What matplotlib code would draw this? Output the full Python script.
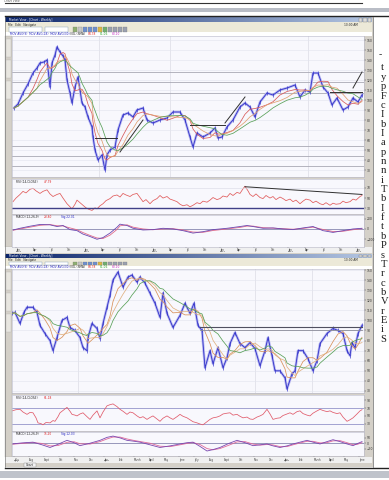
import matplotlib
matplotlib.use('Agg')
import matplotlib.pyplot as plt
import numpy as np
import pandas as pd
from matplotlib.patches import Rectangle
from matplotlib.ticker import MultipleLocator

W, H = 389, 480

# ---------------- data ----------------
# chart 1 : weekly close (week index, price)
price1 = [(2,92),(6,96),(11,107),(16,116),(21,127),(25,132),(28,137),(32,138),(35,140),(38,113),
          (40,137),(43,145),(45,153),(48,148),(51,144),(53,140),(55,120),(58,107),(60,97),(63,113),
          (66,123),(68,110),(70,97),(73,93),(76,83),(80,73),(81,63),(83,50),(86,40),(90,45),
          (93,30),(95,45),(98,50),(103,53),(106,70),(111,85),(116,87),(121,83),(125,90),(131,92),
          (135,80),(141,77),(148,80),(155,82),(161,88),(168,88),(173,80),(178,63),(181,53),(185,67),
          (191,63),(198,67),(203,72),(206,62),(210,63),(215,73),(221,80),(228,93),(233,97),(238,93),
          (243,83),(248,98),(255,107),(261,105),(268,110),(275,112),(283,115),(288,103),(293,110),(298,108),
          (301,127),(306,127),(311,113),(316,107),(320,95),(325,102),(331,90),(336,93),(341,102),(346,98),
          (350,105)]
fib1_levels = [128, 118, 107, 54, 44, 34]
support1 = [((83, 105), (62, 62)), ((178, 213), (75, 75)), ((318, 350), (108, 108))]
trend1 = [((108, 131), (48, 80)), ((213, 233), (77, 103)), ((341, 350), (112, 128))]

rsi1 = [(1,43),(4,50),(8,57),(11,63),(14,60),(18,67),(21,69),(24,64),(28,59),(31,63),(35,66),(38,58),
        (41,53),(45,57),(48,59),(51,50),(55,39),(58,33),(60,29),(63,38),(65,46),(68,41),(71,36),(74,31),
        (77,28),(80,26),(83,31),(85,29),(88,35),(91,39),(94,45),(98,49),(101,54),(105,56),(108,52),(111,59),
        (114,56),(118,53),(121,57),(125,59),(128,51),(131,43),(134,47),(138,39),(141,45),(145,49),(148,55),
        (151,50),(155,53),(158,48),(161,46),(165,43),(168,38),(171,35),(175,37),(178,33),(181,36),(185,41),
        (188,39),(191,44),(195,42),(198,46),(201,51),(205,47),(208,49),(211,54),(215,52),(218,59),(221,55),
        (225,61),(228,59),(231,68),(233,73),(236,64),(238,57),(241,53),(244,58),(248,51),(251,49),(254,55),
        (258,50),(261,53),(264,47),(268,52),(271,49),(274,45),(278,48),(281,43),(284,46),(288,39),(291,44),
        (294,48),(298,46),(301,41),(304,44),(308,39),(311,37),(314,41),(318,36),(321,40),(324,38),(328,39),
        (331,44),(334,41),(338,43),(341,48),(344,46),(348,53),(350,55)]
rsi1_trend = ((233, 350), (72, 57))

macd1_weeks = [1,8,18,28,38,45,51,58,65,71,78,85,91,98,105,108,115,121,131,141,151,161,171,181,191,
               201,215,228,235,241,251,261,271,281,291,301,311,321,331,341,350]
macd1 = [-20,13,53,87,80,47,67,-13,-33,-100,-147,-200,-167,-80,33,93,67,13,-20,-13,13,0,-33,-80,-53,
         -13,13,47,67,47,13,20,0,-13,20,47,-33,-67,-33,0,13]
signal1 = [-25,0,35,70,85,62,58,20,-15,-70,-125,-175,-185,-120,-10,60,80,35,0,-15,0,5,-20,-60,-65,
           -30,0,30,55,55,25,15,5,-5,10,35,-10,-50,-45,-15,5]

dates1_pos = [4,21,38,55,72,89,106,123,140,157,174,191,208,225,242,259,276,293,310,327,344]
dates1_lab = ['Jan','Apr','Jul','Oct','Jan','Apr','Jul','Oct','Jan','Apr','Jul','Oct',
              'Jan','Apr','Jul','Oct','Jan','Apr','Jul','Oct','Jan']
years1_pos = [4, 72, 140, 208, 276, 344]
years1_lab = ['2008', '2009', '2010', '2011', '2012', '2013']

# chart 2
price2 = [(0,107),(3,108),(8,97),(12,108),(15,113),(21,113),(25,108),(28,95),(33,87),(38,80),
          (41,70),(45,83),(50,100),(55,103),(58,93),(63,90),(68,83),(71,73),(75,70),(76,83),
          (80,97),(85,92),(88,82),(91,97),(95,113),(98,125),(101,140),(106,148),(111,133),(116,143),
          (120,145),(125,138),(128,143),(133,137),(138,127),(143,117),(148,103),(151,127),(155,107),(161,93),
          (168,105),(173,117),(178,107),(182,117),(186,95),(190,90),(193,53),(198,70),(201,57),(206,73),
          (211,53),(215,63),(218,77),(223,88),(228,77),(233,73),(238,78),(243,72),(248,55),(253,70),
          (256,83),(260,65),(263,50),(268,50),(273,43),(275,32),(280,47),(283,50),(286,70),(291,70),
          (296,62),(301,50),(305,60),(308,77),(315,87),(321,92),(326,90),(331,87),(335,70),(338,65),
          (340,78),(343,73),(346,87),(350,95)]
resist2 = ((188, 350), (93, 90))

rsi2 = [(0,63),(4,66),(8,67),(11,60),(15,54),(18,59),(21,58),(24,45),(26,32),(29,30),(31,27),(34,33),
        (38,32),(41,38),(43,36),(46,48),(48,58),(52,66),(55,72),(58,62),(60,54),(63,52),(65,50),(68,55),
        (71,58),(75,48),(78,41),(81,52),(85,63),(88,45),(91,60),(95,76),(98,79),(101,81),(105,74),(108,67),
        (111,62),(115,54),(118,60),(121,58),(125,50),(128,45),(131,48),(135,41),(138,46),(141,50),(145,42),
        (148,36),(151,44),(155,50),(158,45),(161,41),(165,48),(168,54),(171,49),(175,45),(178,40),(181,35),
        (185,32),(188,29),(191,27),(195,35),(198,41),(201,45),(205,47),(208,50),(211,55),(215,57),(218,58),
        (221,52),(225,54),(228,49),(231,45),(235,47),(238,42),(241,41),(245,47),(248,50),(251,54),(255,67),
        (258,55),(261,41),(265,44),(268,45),(271,51),(275,55),(278,58),(281,54),(285,61),(288,63),(291,56),
        (295,52),(298,50),(301,57),(305,63),(308,67),(311,64),(315,61),(318,63),(321,59),(325,56),(328,58),
        (331,47),(335,36),(338,40),(341,45),(345,55),(348,63),(350,66)]

macd2 = [(0,-7),(10,3),(21,10),(30,-15),(38,-40),(46,-10),(55,27),(62,5),(68,-23),(78,0),(88,27),(95,55),
         (101,67),(108,50),(115,27),(121,20),(128,10),(138,-15),(148,-40),(158,-25),(168,-7),(175,5),(181,10),
         (188,-30),(195,-73),(201,-60),(208,-40),(216,-5),(225,27),(233,5),(241,-23),(248,-15),(255,-7),
         (261,-25),(268,-40),(275,-25),(281,-7),(288,10),(295,27),(301,10),(308,-7),(315,15),(321,33),
         (328,15),(335,-7),(341,-23),(345,-5),(350,15)]
signal2 = [(0,-10),(10,-2),(21,6),(30,-2),(38,-25),(46,-22),(55,8),(62,14),(68,-5),(78,-8),(88,15),(95,40),
           (101,58),(108,58),(115,40),(121,28),(128,16),(138,0),(148,-28),(158,-32),(168,-15),(175,-2),(181,6),
           (188,-12),(195,-50),(201,-62),(208,-50),(216,-22),(225,12),(233,15),(241,-8),(248,-18),(255,-12),
           (261,-16),(268,-32),(275,-32),(281,-15),(288,2),(295,18),(301,18),(308,3),(315,5),(321,22),
           (328,24),(335,5),(341,-14),(345,-12),(350,5)]

dates2_pos = [2,17,32,47,62,77,92,107,122,137,152,167,182,197,212,227,242,257,272,287,302,317,332,347]
dates2_lab = ['July','Aug','Sept','Oct','Nov','Dec','Jan','Feb','March','April','May','June','July',
              'Aug','Sept','Oct','Nov','Dec','Jan','Feb','March','April','May','June']
years2_pos = [2, 92, 272]
years2_lab = ['2011', '2012', '2013']

# visible first letters of the cropped article column
side_letters = ['t', 'y', 'p', 'F', 'c', 'I', 'b', 'I', 'a', 'p', 'n', 'n', 'i', 'T', 'b', 'I', 'f',
                't', 'b', 'P', 's', 'T', 'r', 'c', 'b', 'V', 'r', 'E', 'i', 'S']

# ---------------- figure ----------------
fig = plt.figure(figsize=(W / 100, H / 100), dpi=100)
fig.patch.set_facecolor('white')
bg = fig.add_axes([0, 0, 1, 1])
bg.set_xlim(0, W)
bg.set_ylim(H, 0)
bg.axis('off')
bg.set_autoscale_on(False)

TINY = dict(fontsize=2.1, family='DejaVu Sans')


def rect(x0, y0, x1, y1, fc, ec='none', lw=0, z=1):
    bg.add_patch(Rectangle((x0, y0), x1 - x0, y1 - y0, fc=fc, ec=ec, lw=lw, zorder=z))


def pax(x0, y0, x1, y1):
    return fig.add_axes([x0 / W, 1 - y1 / H, (x1 - x0) / W, (y1 - y0) / H])


def gradient_bar(x0, x1, y0, y1, c0, c1):
    c0 = np.array(matplotlib.colors.to_rgb(c0))
    c1 = np.array(matplotlib.colors.to_rgb(c1))
    t = np.linspace(0, 1, 200)[None, :, None]
    img = c0 + (c1 - c0) * t
    bg.imshow(img, extent=(x0, x1, y1, y0), aspect='auto', zorder=2, interpolation='bilinear')


# top fragment of previous screenshot
bg.text(4, 1.2, 'Chart View', color='#555555', va='center', **TINY)
bg.plot([5, 362], [3.2, 3.2], color='#333333', lw=0.8, zorder=3)
rect(0, 7.5, W, 12, '#b9bdc6')
bg.plot([5, W], [15.8, 15.8], color='#222222', lw=1.0, zorder=3)

# bottom strip
bg.plot([5, W], [467.5, 467.5], color='#222222', lw=1.0, zorder=3)
rect(0, 471, W, 478, '#bfc3cb')


def chrome(top, title_b, menu_b, tool_b, leg_b, chart_bottom, date_b, bottom):
    rect(5, top, 373, bottom, '#d4d0c8', z=1)
    gradient_bar(5.5, 372.5, top + 0.5, title_b, '#0a246a', '#b4c6e2')
    bg.text(9, (top + title_b) / 2 + 0.3, 'Market View - [Chart - Weekly]', color='white',
            va='center', **TINY, zorder=4)
    for i in range(3):
        rect(359 + i * 4.3, top + 1.0, 362.5 + i * 4.3, title_b - 0.6, '#dcdcdc', ec='#555', lw=0.2, z=4)
    rect(5.5, title_b, 372.5, menu_b, '#ece9d8', z=2)
    bg.text(8, (title_b + menu_b) / 2 + 0.3, 'File   Edit   Navigate', color='#222', va='center', **TINY, zorder=4)
    bg.text(344, (title_b + menu_b) / 2 + 0.3, '10:00 AM', color='#222', va='center', **TINY, zorder=4)
    rect(5.5, menu_b, 372.5, tool_b, '#ece9d8', z=2)
    rect(9, menu_b + 0.8, 42, tool_b - 0.8, 'white', ec='#7f9db9', lw=0.3, z=3)
    rect(45, menu_b + 0.8, 68, tool_b - 0.8, 'white', ec='#7f9db9', lw=0.3, z=3)
    icol = ['#8fb070', '#c8c8c8', '#6d8fd0', '#6d8fd0', '#6d8fd0', '#e0b840', '#70b070', '#9aa0b0',
            '#9aa0b0', '#9aa0b0', '#9aa0b0']
    for i, c in enumerate(icol):
        rect(73 + i * 5, menu_b + 0.8, 77 + i * 5, tool_b - 0.8, c, ec='#777', lw=0.2, z=3)
    rect(5.5, tool_b, 372.5, leg_b, 'white', z=2)
    ly = (tool_b + leg_b) / 2 + 0.2
    bg.text(10, ly, 'MOV AVG(9)  MOV AVG(18)  MOV AVG(30)', color='#2020c0', va='center', **TINY, zorder=4)
    bg.text(70, ly, 'VOL (SMA)', color='#222', va='center', **TINY, zorder=4)
    bg.text(88, ly, '84.78', color='#e02020', va='center', **TINY, zorder=4)
    bg.text(100, ly, '81.06', color='#20a020', va='center', **TINY, zorder=4)
    bg.text(112, ly, '80.10', color='#c020c0', va='center', **TINY, zorder=4)
    # left sidebar
    rect(5.5, leg_b, 12, chart_bottom, '#d4d0c8', ec='#999', lw=0.2, z=2)
    for k in range(3):
        rect(6.3, leg_b + 3 + k * 21, 11, leg_b + 21 + k * 21, '#e8e6e0', ec='#aaa', lw=0.2, z=3)
    # date strip
    rect(5.5, chart_bottom, 372.5, date_b, '#f0f0f0', z=2)
    # window edges
    bg.plot([372.8, 372.8], [top, bottom], color='#808080', lw=0.6, zorder=5)
    bg.plot([5.2, 5.2], [top, bottom], color='#808080', lw=0.5, zorder=5)


chrome(17, 22.3, 26.3, 32.3, 35.6, 247, 253.3, 253.8)
chrome(253.8, 257.8, 261.2, 265.6, 268.6, 456.5, 462.6, 467)
# chart tab at the bottom of window 2
rect(24, 463.2, 36, 466.8, '#f4f4f4', ec='#888', lw=0.3, z=4)
bg.text(26, 465.1, 'Chart', color='#222', va='center', **TINY, zorder=5)

PBG = '#f8f8fd'


def style_axes(ax, fc=PBG):
    ax.set_facecolor(fc)
    for s in ax.spines.values():
        s.set_color('#b8b8c8')
        s.set_linewidth(0.4)
    ax.yaxis.tick_right()
    ax.tick_params(axis='y', labelsize=2.2, length=1.5, width=0.3, pad=0.6, colors='#333333')
    ax.tick_params(axis='x', bottom=False, labelbottom=False)
    ax.set_xlim(0, 352)


def unz(pairs):
    a = np.array(pairs, dtype=float)
    return a[:, 0], a[:, 1]


def price_panel(ax, pairs, ylim, vlines, ma_cols):
    style_axes(ax)
    ax.set_ylim(*ylim)
    ax.yaxis.set_major_locator(MultipleLocator(10))
    ax.grid(axis='y', color='#e2e4ee', lw=0.4)
    for v in vlines:
        ax.axvline(v, color='#dcdce6', lw=0.5, zorder=0)
    x, y = unz(pairs)
    s = pd.Series(y)
    ax.plot(x, y, color='#b4b4f0', lw=1.8, zorder=2)
    ax.plot(x, y, color='#3030c8', lw=0.6, zorder=3)
    ax.plot(x, y, color='#3030c8', lw=0, marker='|', ms=2.4, mew=0.45, zorder=3)
    ax.plot(x, s.rolling(4, min_periods=1).mean(), color=ma_cols[0], lw=0.55, zorder=4)
    ax.plot(x, s.rolling(6, min_periods=1).mean(), color=ma_cols[1], lw=0.55, zorder=4)
    ax.plot(x, s.rolling(9, min_periods=1).mean(), color=ma_cols[2], lw=0.55, zorder=4)


def panel_label(ax, txt1, txt2, txt3=None):
    ax.text(0.01, 0.97, txt1, transform=ax.transAxes, color='#222', va='top', **TINY)
    ax.text(0.09, 0.97, txt2, transform=ax.transAxes, color='#e02020', va='top', **TINY)
    if txt3:
        ax.text(0.14, 0.97, txt3, transform=ax.transAxes, color='#2020c0', va='top', **TINY)


def date_axis(ax, pos, lab, ypos, ylab):
    ax.tick_params(axis='x', bottom=True, labelbottom=True, labelsize=1.8, length=1, width=0.3,
                   pad=0.4, colors='#333333')
    ax.set_xticks(pos)
    ax.set_xticklabels(lab)
    for t in ax.get_xticklabels():
        t.set_horizontalalignment('left')
    for p, l in zip(ypos, ylab):
        ax.annotate(l, (p, 0), xycoords=('data', 'axes fraction'), xytext=(0, -3.2),
                    textcoords='offset points', fontsize=1.7, color='#333333', ha='left',
                    va='top', annotation_clip=False)


# ---------------- window 1 ----------------
ax1 = pax(12, 36, 364, 177)
price_panel(ax1, price1, (23, 164), [87, 158, 296], ['#d85a5a', '#e0a070', '#58a058'])
for lv in fib1_levels:
    ax1.axhline(lv, color='#a8a8b4', lw=0.6, zorder=1)
for (xs, ys) in support1:
    ax1.plot(xs, ys, color='#303030', lw=0.7, zorder=5)
for (xs, ys) in trend1:
    ax1.plot(xs, ys, color='#303030', lw=0.7, zorder=5)

r1 = pax(12, 178.5, 364, 213.5)
style_axes(r1)
r1.set_ylim(20, 88)
r1.set_yticks([30, 50, 70])
x, y = unz(rsi1)
r1.plot(x, y, color='#e05a5a', lw=0.55)
r1.axhline(30, color='#404088', lw=1.0)
r1.axhline(70, color='#d8d8e4', lw=0.4)
r1.plot(*rsi1_trend, color='#303030', lw=0.7)
panel_label(r1, 'RSI (14,CLOSE)', '47.79')

m1 = pax(12, 214.5, 364, 246.5)
style_axes(m1)
m1.set_ylim(-340, 280)
m1.set_yticks([-200, 0, 200])
m1.axhline(0, color='#7070a0', lw=0.5)
m1.plot(macd1_weeks, signal1, color='#e06a8a', lw=0.6)
m1.plot(macd1_weeks, macd1, color='#6a48b0', lw=0.6)
panel_label(m1, 'MACD (12,26,9)', '23.80', 'Sig 22.01')
date_axis(m1, dates1_pos, dates1_lab, years1_pos, years1_lab)

# ---------------- window 2 ----------------
ax2 = pax(12, 269, 364, 393)
price_panel(ax2, price2, (28, 151), [66, 243, 300], ['#d8905a', '#e0b080', '#58a058'])
ax2.plot(resist2[0], [resist2[1][0]] * 2, color='#505060', lw=0.8, zorder=5)
ax2.plot(resist2[0], [resist2[1][1]] * 2, color='#8a8a98', lw=0.6, zorder=5)

r2 = pax(12, 395, 364, 431)
style_axes(r2)
r2.set_ylim(11, 104)
r2.set_yticks([30, 50, 70, 90])
x, y = unz(rsi2)
r2.axhline(70, color='#8080c0', lw=0.5)
r2.axhline(30, color='#8080c0', lw=0.5)
r2.plot(x, y, color='#e05a6a', lw=0.55)
panel_label(r2, 'RSI (14,CLOSE)', '61.18')

m2 = pax(12, 431.5, 364, 456)
style_axes(m2)
m2.set_ylim(-120, 110)
m2.set_yticks([-50, 0, 50])
m2.axhline(0, color='#7070a0', lw=0.5)
x, y = unz(signal2)
m2.plot(x, y, color='#e06a9a', lw=0.6)
x, y = unz(macd2)
m2.plot(x, y, color='#7a48b0', lw=0.6)
panel_label(m2, 'MACD (12,26,9)', '15.20', 'Sig 12.03')
date_axis(m2, dates2_pos, dates2_lab, years2_pos, years2_lab)

# ---------------- cropped article text on the right ----------------
bg.text(379, 55, '-', fontsize=7, family='Liberation Serif', color='#333', va='center')
for i, w in enumerate(side_letters):
    bg.text(380.5, 68 + i * 9.35, w, fontsize=7.6, family='Liberation Serif', color='#1a1a1a',
            va='center', ha='left')

fig.savefig('out.png', dpi=100, facecolor='white')
